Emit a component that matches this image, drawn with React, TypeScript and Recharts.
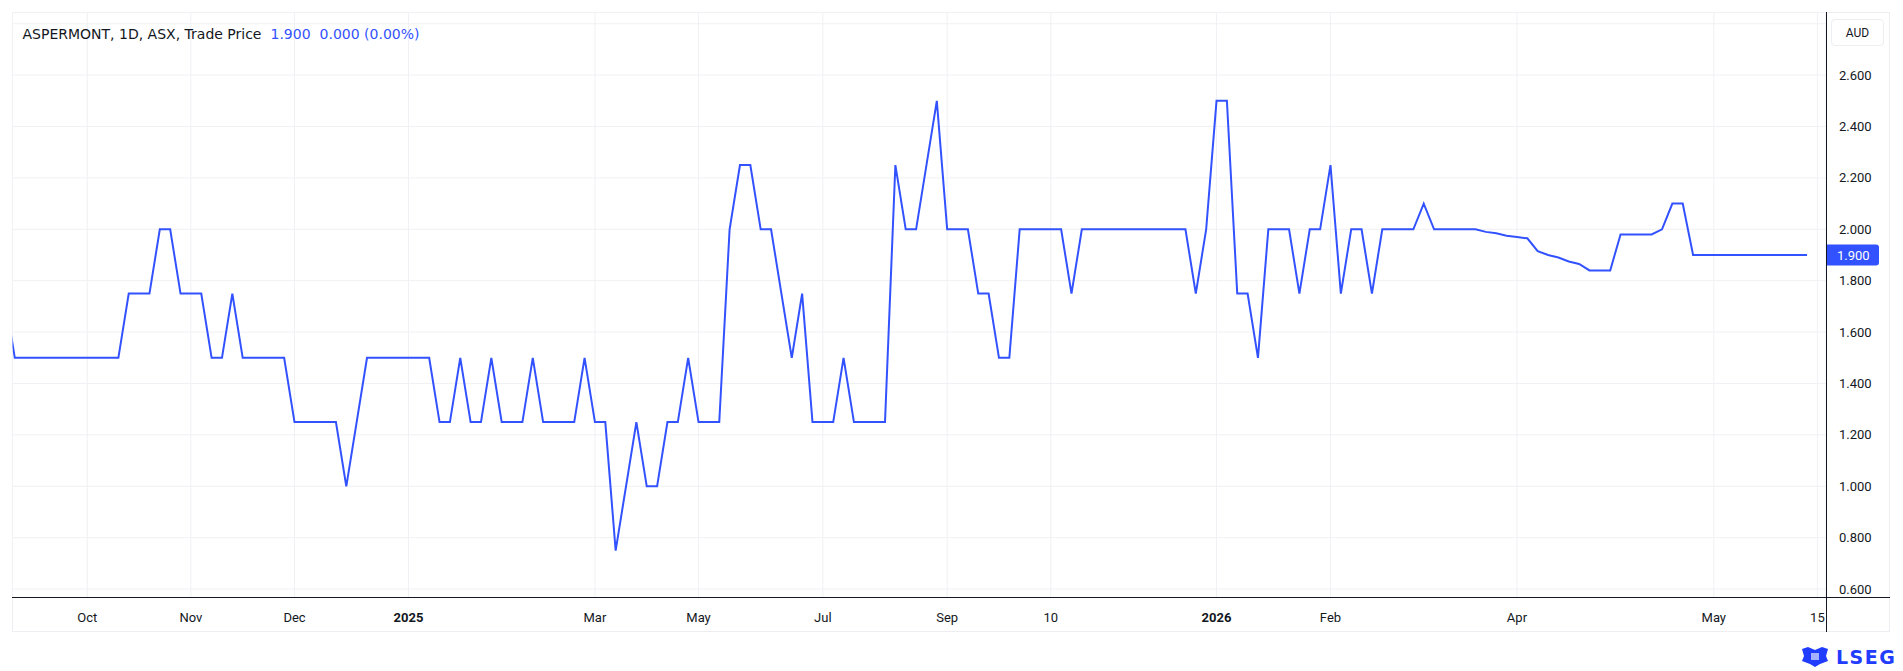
import { LineChart, Line, XAxis, YAxis, CartesianGrid, ReferenceLine } from "recharts";

// one value per trading bar (index 0 sits just left of the visible pane)
const prices = [
  1.75, 1.5, 1.5, 1.5, 1.5, 1.5, 1.5, 1.5, 1.5, 1.5,
  1.5, 1.5, 1.75, 1.75, 1.75, 2.0, 2.0, 1.75, 1.75, 1.75,
  1.5, 1.5, 1.75, 1.5, 1.5, 1.5, 1.5, 1.5, 1.25, 1.25,
  1.25, 1.25, 1.25, 1.0, 1.25, 1.5, 1.5, 1.5, 1.5, 1.5,
  1.5, 1.5, 1.25, 1.25, 1.5, 1.25, 1.25, 1.5, 1.25, 1.25,
  1.25, 1.5, 1.25, 1.25, 1.25, 1.25, 1.5, 1.25, 1.25, 0.75,
  1.0, 1.25, 1.0, 1.0, 1.25, 1.25, 1.5, 1.25, 1.25, 1.25,
  2.0, 2.25, 2.25, 2.0, 2.0, 1.75, 1.5, 1.75, 1.25, 1.25,
  1.25, 1.5, 1.25, 1.25, 1.25, 1.25, 2.25, 2.0, 2.0, 2.25,
  2.5, 2.0, 2.0, 2.0, 1.75, 1.75, 1.5, 1.5, 2.0, 2.0,
  2.0, 2.0, 2.0, 1.75, 2.0, 2.0, 2.0, 2.0, 2.0, 2.0,
  2.0, 2.0, 2.0, 2.0, 2.0, 1.75, 2.0, 2.5, 2.5, 1.75,
  1.75, 1.5, 2.0, 2.0, 2.0, 1.75, 2.0, 2.0, 2.25, 1.75,
  2.0, 2.0, 1.75, 2.0, 2.0, 2.0, 2.0, 2.1, 2.0, 2.0,
  2.0, 2.0, 2.0, 1.99, 1.985, 1.975, 1.97, 1.965, 1.915, 1.9,
  1.89, 1.875, 1.865, 1.84, 1.84, 1.84, 1.98, 1.98, 1.98, 1.98,
  2.0, 2.1, 2.1, 1.9, 1.9, 1.9, 1.9, 1.9, 1.9, 1.9,
  1.9, 1.9, 1.9, 1.9, 1.9,
];

// time scale labels sit on bar indexes
const timeTicks = [8, 18, 28, 39, 57, 67, 79, 91, 101, 117, 128, 146, 165, 175];
const timeLabels = ["Oct", "Nov", "Dec", "2025", "Mar", "May", "Jul", "Sep", "10", "2026", "Feb", "Apr", "May", "15"];
const yearLabels = ["2025", "2026"];

const priceTicks = [0.6, 0.8, 1.0, 1.2, 1.4, 1.6, 1.8, 2.0, 2.2, 2.4, 2.6, 2.8];

const lastPrice = 1.9;
const BLUE = "#3352ff";
const TEXT = "#131722";
const FONT = "Roboto, 'Noto Sans', sans-serif";

const data = prices.map((p, i) => ({ i, price: p }));

const TimeTick = (props: any) => {
  const { x, y, payload } = props;
  const idx = timeTicks.indexOf(payload.value);
  const label = idx >= 0 ? timeLabels[idx] : "";
  const bold = yearLabels.includes(label);
  return (
    <text
      x={x}
      y={y + 18}
      textAnchor="middle"
      dominantBaseline="central"
      fontSize={13}
      fontFamily={FONT}
      fontWeight={bold ? 700 : 400}
      fill={TEXT}
    >
      {label}
    </text>
  );
};

const PriceTick = (props: any) => {
  const { x, y, payload } = props;
  if (payload.value > 2.7) return null;
  return (
    <text
      x={x + 11}
      y={y}
      textAnchor="start"
      dominantBaseline="central"
      fontSize={13}
      fontFamily={FONT}
      fill={TEXT}
    >
      {payload.value.toFixed(3)}
    </text>
  );
};

const PriceTag = (props: any) => {
  const vb = props.viewBox || {};
  const x = vb.x + vb.width;
  const y = vb.y;
  return (
    <g>
      <path
        d={`M${x + 0.5},${y - 10.5} H${x + 50} a3,3 0 0 1 3,3 V${y + 7.5} a3,3 0 0 1 -3,3 H${x + 0.5} Z`}
        fill={BLUE}
      />
      <text
        x={x + 11}
        y={y}
        dominantBaseline="central"
        fontSize={13}
        fontFamily={FONT}
        fill="#ffffff"
      >
        {lastPrice.toFixed(3)}
      </text>
    </g>
  );
};

const App = () => {
  return (
    <div style={{ position: "absolute", left: 0, top: 0, width: 1903, height: 671, background: "#fff", fontFamily: FONT }}>
      {/* outer frame */}
      <div style={{ position: "absolute", left: 12, top: 12, width: 1878, height: 620, border: "1px solid #eceef2", boxSizing: "border-box" }} />

      <div style={{ position: "absolute", left: 0, top: 0 }}>
        <LineChart width={1903} height={671} data={data} margin={{ top: 12.5, left: 12.5, right: 13, bottom: 39 }}>
          <CartesianGrid stroke="#f0f1f4" strokeWidth={1} />
          <XAxis
            dataKey="i"
            type="number"
            domain={[0.78, 175.83]}
            allowDataOverflow
            ticks={timeTicks}
            interval={0}
            tick={<TimeTick />}
            tickLine={false}
            tickSize={0}
            axisLine={false}
            height={34.5}
          />
          <YAxis
            orientation="right"
            type="number"
            domain={[0.5673, 2.8436]}
            allowDataOverflow
            ticks={priceTicks}
            interval={0}
            tick={<PriceTick />}
            tickLine={false}
            tickSize={0}
            axisLine={false}
            width={64}
          />
          <Line
            type="linear"
            dataKey="price"
            stroke={BLUE}
            strokeWidth={2}
            dot={false}
            isAnimationActive={false}
          />
          <ReferenceLine y={lastPrice} stroke="none" ifOverflow="visible" label={PriceTag} />
        </LineChart>
      </div>

      {/* pane separators */}
      <div style={{ position: "absolute", left: 12, top: 597, width: 1878, height: 1, background: TEXT }} />
      <div style={{ position: "absolute", left: 1825.5, top: 12, width: 1, height: 620, background: TEXT }} />

      {/* legend */}
      <div
        style={{
          position: "absolute",
          left: 22.5,
          top: 25.5,
          fontSize: 14,
          lineHeight: "16px",
          color: TEXT,
          whiteSpace: "nowrap",
          fontFamily: "'DejaVu Sans', Verdana, sans-serif",
        }}
      >
        ASPERMONT, 1D, ASX, Trade Price
        <span style={{ color: BLUE, marginLeft: 9 }}>{lastPrice.toFixed(3)}</span>
        <span style={{ color: BLUE, marginLeft: 9 }}>0.000 (0.00%)</span>
      </div>

      {/* currency box */}
      <div
        style={{
          position: "absolute",
          left: 1831,
          top: 19,
          width: 53,
          height: 27,
          border: "1px solid #eceef2",
          borderRadius: 4,
          boxSizing: "border-box",
          fontSize: 12,
          color: TEXT,
          display: "flex",
          alignItems: "center",
          justifyContent: "center",
        }}
      >
        AUD
      </div>

      {/* LSEG mark */}
      <div style={{ position: "absolute", left: 1800, top: 646, display: "flex", alignItems: "center", gap: 6 }}>
        <svg width={30} height={22} viewBox="0 0 30 22">
          <path d="M2,3 L8,1 L15,4 L22,1 L28,3 L26,10 L28,15 L20,18 L15,21 L10,18 L2,15 L4,10 Z" fill="#1f3cff" />
          <path d="M11,7 H19 V14 H11 Z" fill="#ffffff" opacity={0.6} />
        </svg>
        <span style={{ color: "#1f3cff", fontWeight: 700, fontSize: 19, letterSpacing: 1.5, fontFamily: "'DejaVu Sans', sans-serif" }}>LSEG</span>
      </div>
    </div>
  );
};

export default App;
